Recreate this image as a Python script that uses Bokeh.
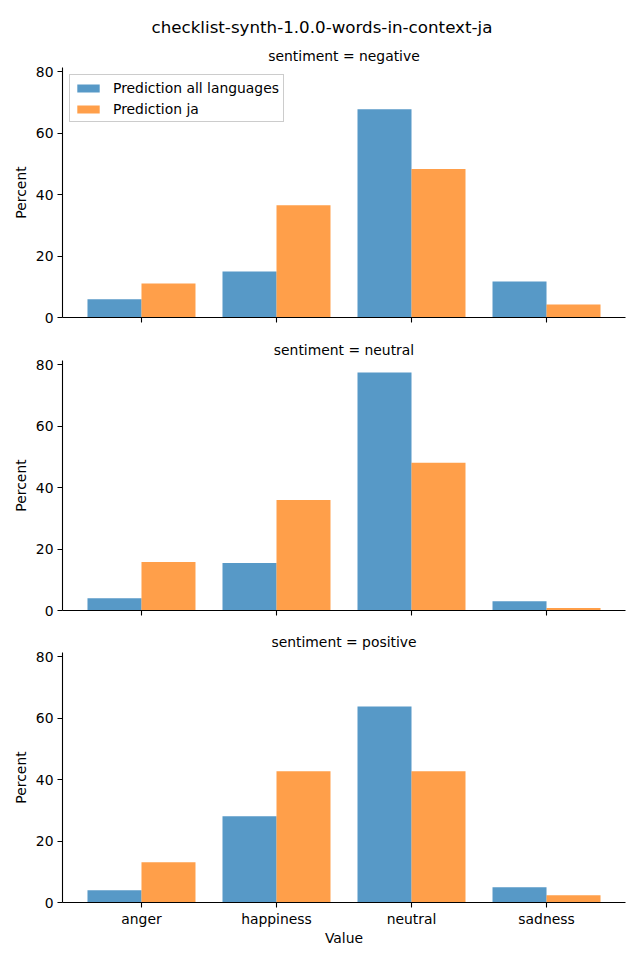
from bokeh.plotting import figure
from bokeh.layouts import column
from bokeh.models import Title, Legend, LegendItem, FixedTicker, Range1d
from bokeh.embed import file_html
from bokeh.resources import INLINE

# ---- data ----
categories = ["anger", "happiness", "neutral", "sadness"]
panel_titles = ["sentiment = negative", "sentiment = neutral", "sentiment = positive"]
series_names = ["Prediction all languages", "Prediction ja"]
all_negative = [5.9, 15.0, 67.8, 11.7]
ja_negative = [11.1, 36.5, 48.3, 4.2]
all_neutral = [4.0, 15.5, 77.5, 3.0]
ja_neutral = [15.8, 36.0, 48.1, 0.8]
all_positive = [4.0, 28.1, 63.8, 5.0]
ja_positive = [13.1, 42.7, 42.7, 2.4]
y_ticks = [0, 20, 40, 60, 80]
main_title = "checklist-synth-1.0.0-words-in-context-ja"
x_label = "Value"
y_label = "Percent"

FONT = "DejaVu Sans"
BLUE = "#1f77b4"
ORANGE = "#ff7f0e"
FS = "13.9px"

ymax = max(all_negative + ja_negative + all_neutral + ja_neutral + all_positive + ja_positive) * 1.05
idx = list(range(len(categories)))


def style_title(t, size, standoff):
    t.align = "center"
    t.text_font = FONT
    t.text_font_size = size
    t.text_font_style = "normal"
    t.text_color = "black"
    t.standoff = standoff


def make(title, all_v, ja_v, top, bottom, show_x, legend=False, main=None):
    p = figure(width=640, height=top + 250 + bottom,
               x_range=Range1d(-0.585, len(categories) - 1 + 0.585),
               y_range=Range1d(0, ymax),
               output_backend="svg", toolbar_location=None,
               min_border_left=62, min_border_right=15,
               min_border_top=top, min_border_bottom=bottom)
    p.outline_line_color = None
    p.xgrid.visible = False
    p.ygrid.visible = False
    p.background_fill_color = "white"
    p.border_fill_color = "white"

    if main is not None:
        p.title.text = main
        style_title(p.title, "16.7px", 10)
        p.title.align = "left"
        p.title.offset = 89
        sub = Title(text=title)
        style_title(sub, FS, 8)
        p.add_layout(sub, "above")
    else:
        p.title.text = title
        style_title(p.title, FS, 6)

    r1 = p.vbar(x=[i - 0.2 for i in idx], top=all_v, bottom=0, width=0.4,
                fill_color=BLUE, fill_alpha=0.75, line_color=None)
    r2 = p.vbar(x=[i + 0.2 for i in idx], top=ja_v, bottom=0, width=0.4,
                fill_color=ORANGE, fill_alpha=0.75, line_color=None)

    for ax in (p.xaxis[0], p.yaxis[0]):
        ax.axis_line_color = "black"
        ax.axis_line_width = 1.1
        ax.major_tick_line_color = "black"
        ax.major_tick_line_width = 1.1
        ax.major_tick_out = 5
        ax.major_tick_in = 0
        ax.minor_tick_line_color = None
        ax.major_label_text_font = FONT
        ax.major_label_text_font_size = FS
        ax.major_label_text_color = "black"
        ax.axis_label_text_font = FONT
        ax.axis_label_text_font_size = FS
        ax.axis_label_text_font_style = "normal"
        ax.axis_label_text_color = "black"
        ax.major_label_standoff = 4

    p.yaxis[0].ticker = FixedTicker(ticks=y_ticks)
    p.yaxis[0].axis_label = y_label
    p.yaxis[0].axis_label_standoff = 4

    p.xaxis[0].ticker = FixedTicker(ticks=idx)
    if show_x:
        p.xaxis[0].major_label_overrides = {i: c for i, c in zip(idx, categories)}
        p.xaxis[0].major_label_standoff = 3
        p.xaxis[0].axis_label = x_label
        p.xaxis[0].axis_label_standoff = 0
    else:
        p.xaxis[0].major_label_overrides = {i: "" for i in idx}

    if legend:
        leg = Legend(items=[LegendItem(label=series_names[0], renderers=[r1]),
                            LegendItem(label=series_names[1], renderers=[r2])],
                     location="top_left", margin=7, padding=4, spacing=4,
                     glyph_width=28, glyph_height=10, label_height=17,
                     label_standoff=11, label_text_font=FONT, label_text_font_size=FS,
                     label_text_color="black",
                     border_line_color="#cccccc", border_line_alpha=1.0,
                     background_fill_color="white", background_fill_alpha=0.8)
        p.add_layout(leg, "center")
    return p


p1 = make(panel_titles[0], all_negative, ja_negative, 67, 18, False, legend=True, main=main_title)
p2 = make(panel_titles[1], all_neutral, ja_neutral, 25, 18, False)
p3 = make(panel_titles[2], all_positive, ja_positive, 24, 58, True)

layout = column(p1, p2, p3, spacing=0)
open("out.html", "w").write(file_html(layout, INLINE))
